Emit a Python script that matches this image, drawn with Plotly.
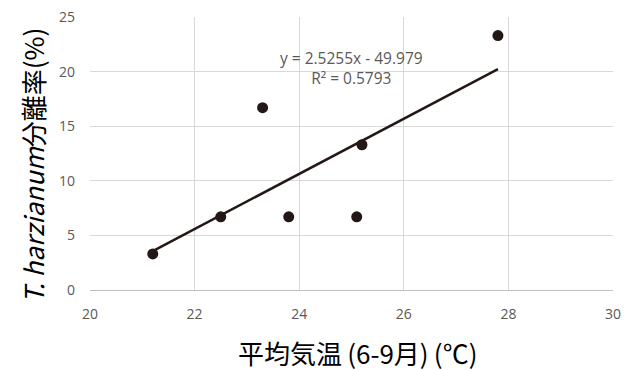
import plotly.graph_objects as go

temp = [21.2, 22.5, 23.3, 23.8, 25.1, 25.2, 27.8]
rate = [3.3, 6.7, 16.7, 6.7, 6.7, 13.3, 23.3]
slope = 2.5255
intercept = -49.979
r2 = 0.5793
x_ticks = [20, 22, 24, 26, 28, 30]
y_ticks = [0, 5, 10, 15, 20, 25]
x_title = "平均気温\u2009(6-9月)\u2009(℃)"
y_title = "<i>T. harzianum</i>分離率(%)"

trend_x = [min(temp), max(temp)]
trend_y = [slope * v + intercept for v in trend_x]

dark = "#231815"
gray_text = "#595959"
grid = "#d9d9d9"

fig = go.Figure()
fig.add_trace(go.Scatter(x=trend_x, y=trend_y, mode="lines",
                         line=dict(color=dark, width=2.5), hoverinfo="skip"))
fig.add_trace(go.Scatter(x=temp, y=rate, mode="markers",
                         marker=dict(color=dark, size=11)))

fig.add_annotation(x=25.0, y=20.3, xref="x", yref="y",
                   text=f"y = {slope}x - {abs(intercept)}<br>R² = {r2}",
                   showarrow=False, align="center",
                   font=dict(family="Open Sans, Liberation Sans", size=15.5, color=gray_text))

fig.add_annotation(x=357, y=352, xref="paper", yref="paper",
                   xanchor="center", yanchor="middle",
                   text=x_title, showarrow=False,
                   font=dict(family="Noto Sans CJK JP", size=26, color="black"))
fig.add_annotation(x=32, y=166, xref="paper", yref="paper",
                   xanchor="center", yanchor="middle",
                   text=y_title, showarrow=False, textangle=-90,
                   font=dict(family="Noto Sans CJK JP", size=26, color="black"))

W, H = 634, 370
L, R, T, B = 90, 21, 17, 80
pw, ph = W - L - R, H - T - B
for a in fig.layout.annotations:
    if a.xref == "paper":
        a.x = (a.x - L) / pw
        a.y = (H - B - a.y) / ph

fig.update_layout(
    width=W, height=H,
    margin=dict(l=L, r=R, t=T, b=B),
    paper_bgcolor="white", plot_bgcolor="white",
    showlegend=False,
    font=dict(family="Noto Sans CJK JP"),
)
fig.update_xaxes(range=[20, 30], tickvals=x_ticks, showgrid=True, gridcolor=grid, gridwidth=1,
                 zeroline=False, showline=True, linecolor="#bfbfbf", linewidth=1,
                 tickfont=dict(family="Open Sans, Liberation Sans", size=14, color=gray_text),
                 ticks="", ticklabelstandoff=11, automargin=False)
fig.update_yaxes(range=[0, 25], tickvals=y_ticks, showgrid=True, gridcolor=grid, gridwidth=1,
                 zeroline=False, showline=False,
                 tickfont=dict(family="Open Sans, Liberation Sans", size=14, color=gray_text),
                 ticks="", ticklabelstandoff=14, automargin=False)

fig.write_html("out.html", config={"displayModeBar": False},
               post_script="document.body.style.margin='0';")
